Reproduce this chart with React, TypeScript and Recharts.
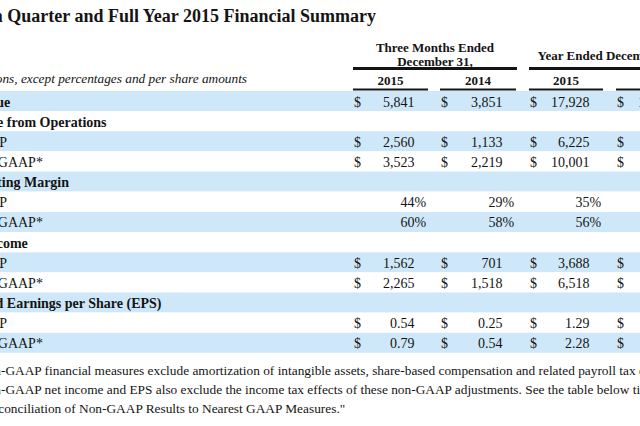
import React from 'react';
import { BarChart, Bar, XAxis, YAxis, Cell, LabelList } from 'recharts';

// rows of the summary table, top to bottom
const rowLabels = [
  'Revenue',
  'Income from Operations',
  'GAAP',
  'Non-GAAP*',
  'Operating Margin',
  'GAAP',
  'Non-GAAP*',
  'Net Income',
  'GAAP',
  'Non-GAAP*',
  'Diluted Earnings per Share (EPS)',
  'GAAP',
  'Non-GAAP*',
];
// usd = millions, pct = margin, eps = per share, head = section title
const rowKinds = ['usd', 'head', 'usd', 'usd', 'head', 'pct', 'pct', 'head', 'usd', 'usd', 'head', 'eps', 'eps'];

const years = ['2015', '2014', '2015', '2014'];
const q4of2015 = [5841, null, 2560, 3523, null, 44, 60, null, 1562, 2265, null, 0.54, 0.79];
const q4of2014 = [3851, null, 1133, 2219, null, 29, 58, null, 701, 1518, null, 0.25, 0.54];
const fy2015 = [17928, null, 6225, 10001, null, 35, 56, null, 3688, 6518, null, 1.29, 2.28];
const fy2014 = [12466, null, 4994, 7480, null, 40, 60, null, 2940, 4430, null, 1.1, 1.6];
const columns = [q4of2015, q4of2014, fy2015, fy2014];

const footnote = [
  'Non-GAAP financial measures exclude amortization of intangible assets, share-based compensation and related payroll tax expense',
  'Non-GAAP net income and EPS also exclude the income tax effects of these non-GAAP adjustments. See the table below titled',
  '"Reconciliation of Non-GAAP Results to Nearest GAAP Measures."',
];

const table = rowLabels.map((label, i) => ({ id: i, label, band: 1 }));

const FONT = '"Liberation Serif", "Times New Roman", serif';
const INK = '#141414';
const STRIPE = '#cfe8f9';
const colStart = [353, 440, 529, 616];
const colEnd = [428, 516, 603, 690];

function fmt(v: number, kind: string) {
  if (kind === 'eps') return v.toFixed(2);
  return v.toLocaleString('en-US');
}

function RowContent(props: any) {
  const i = Number(props.value);
  const vb = props.viewBox || {};
  const y = vb.y ?? props.y;
  const h = vb.height ?? props.height;
  const base = y + h - 4.5;
  const kind = rowKinds[i];
  const isSub = rowLabels[i] === 'GAAP' || rowLabels[i] === 'Non-GAAP*';
  return (
    <g fontFamily={FONT} fill={INK} fontSize={14}>
      <text x={isSub ? -31 : -41} y={base} fontWeight={isSub ? 400 : 700}>
        {rowLabels[i]}
      </text>
      {kind !== 'head' &&
        columns.map((col, c) => {
          const v = col[i];
          if (v == null) return null;
          const right = colEnd[c] - 13.5;
          return (
            <g key={c}>
              {kind !== 'pct' && (
                <text x={colStart[c] + 1} y={base}>$</text>
              )}
              <text x={right} y={base} textAnchor="end">{fmt(v, kind)}</text>
              {kind === 'pct' && <text x={right} y={base}>%</text>}
            </g>
          );
        })}
    </g>
  );
}

function Frame() {
  return (
    <svg
      width={640}
      height={426}
      style={{ position: 'absolute', left: 0, top: 0, pointerEvents: 'none' }}
      fontFamily={FONT}
      fill={INK}
    >
      <text x={376} y={22} textAnchor="end" fontSize={18} fontWeight={700}>
        Fourth Quarter and Full Year 2015 Financial Summary
      </text>
      <text x={435} y={52} textAnchor="middle" fontSize={13} fontWeight={700}>Three Months Ended</text>
      <text x={435} y={66} textAnchor="middle" fontSize={13} fontWeight={700}>December 31,</text>
      <text x={609.5} y={60} textAnchor="middle" fontSize={13} fontWeight={700}>Year Ended December 31,</text>
      <rect x={353} y={67} width={164} height={3} fill={INK} />
      <rect x={529} y={67} width={161} height={3} fill={INK} />
      <text x={247} y={83} textAnchor="end" fontSize={13.3} fontStyle="italic">
        In millions, except percentages and per share amounts
      </text>
      {years.map((yr, c) => (
        <g key={c}>
          <text x={(colStart[c] + colEnd[c]) / 2} y={85} textAnchor="middle" fontSize={13} fontWeight={700}>{yr}</text>
          <rect x={colStart[c]} y={88.5} width={colEnd[c] - colStart[c]} height={2} fill={INK} />
        </g>
      ))}
      <text x={-24} y={375} textAnchor="end" fontSize={13.35}>*</text>
      {footnote.map((line, k) => (
        <text key={k} x={-22} y={375 + k * 19} fontSize={13.35}>{line}</text>
      ))}
    </svg>
  );
}

export default function App() {
  return (
    <div style={{ position: 'absolute', left: 0, top: 0, width: 640, height: 426, background: '#fff', overflow: 'hidden' }}>
      <BarChart
        layout="vertical"
        width={640}
        height={426}
        data={table}
        margin={{ top: 91, right: 0, bottom: 73, left: 0 }}
        barCategoryGap={0}
      >
        <XAxis type="number" domain={[0, 1]} hide />
        <YAxis type="category" dataKey="id" hide />
        <Bar dataKey="band" isAnimationActive={false}>
          {table.map((r) => (
            <Cell key={r.id} fill={r.id % 2 === 0 ? STRIPE : '#ffffff'} />
          ))}
          <LabelList dataKey="id" content={RowContent} />
        </Bar>
      </BarChart>
      <Frame />
    </div>
  );
}
